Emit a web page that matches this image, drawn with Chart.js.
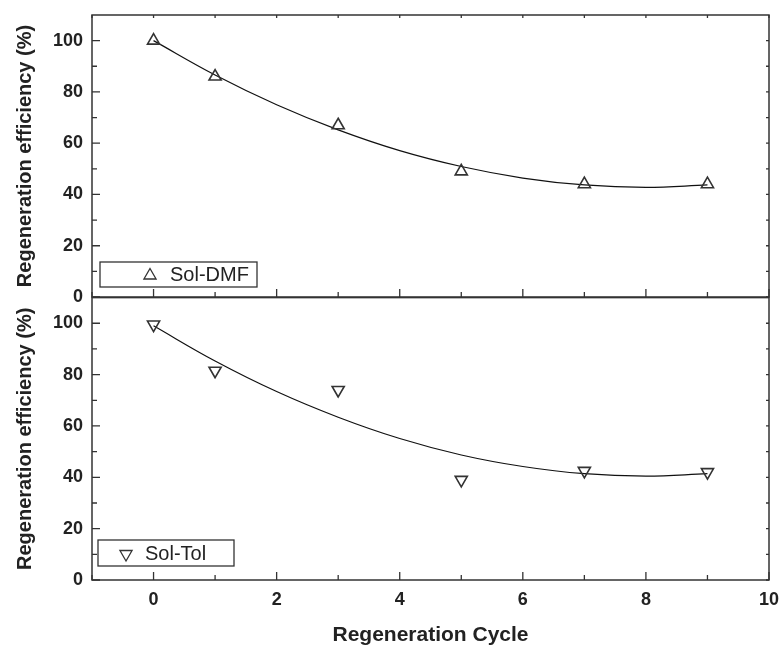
<!DOCTYPE html>
<html>
<head>
<meta charset="utf-8">
<script src="https://cdn.jsdelivr.net/npm/chart.js@4.4.1/dist/chart.umd.min.js"></script>
<style>
  html, body { margin: 0; padding: 0; background: #fff; }
  #wrap { position: relative; width: 783px; height: 648px; }
  canvas { position: absolute; left: 0; }
</style>
</head>
<body>
<div id="wrap">
  <canvas id="topChart" width="783" height="310" style="top:0"></canvas>
  <canvas id="bottomChart" width="783" height="359" style="top:289px"></canvas>
</div>
<script>
// measured points
const cycles = [0, 1, 3, 5, 7, 9];
const dmfEff = [100, 86, 67, 49, 44, 44];
const tolEff = [99.5, 81.5, 74, 39, 42.5, 42];

// fitted curves
const fitCycles = [0, 1, 2, 3, 4, 5, 6, 7, 8, 9];
const dmfFit = [100, 86.6, 75.0, 65.2, 57.1, 50.9, 46.4, 43.7, 42.8, 43.7];
const tolFit = [99, 85.3, 73.4, 63.4, 55.1, 48.7, 44.2, 41.4, 40.5, 41.4];

// ticks
const xTicks = [0, 2, 4, 6, 8, 10];
const xMinor = [-1, 1, 3, 5, 7, 9];
const yTicks = [0, 20, 40, 60, 80, 100];
const yMinor = [10, 30, 50, 70, 90];

const FONT = "'Liberation Sans', Arial, sans-serif";
const INK = '#333';

function pts(xs, ys) {
    return xs.map((x, i) => ({ x: x, y: ys[i] }));
}

// frame, inward ticks and the boxed legend
const framePlugin = {
    id: 'frame',
    afterDraw(chart, args, opts) {
        const { ctx, chartArea: a, scales: { x, y } } = chart;
        ctx.save();
        ctx.strokeStyle = INK;
        ctx.lineWidth = 1.5;
        ctx.strokeRect(a.left, a.top, a.right - a.left, a.bottom - a.top);

        ctx.lineWidth = 1.3;
        ctx.beginPath();
        const yTick = (v, len) => {
            const py = y.getPixelForValue(v);
            ctx.moveTo(a.left, py); ctx.lineTo(a.left + len, py);
            ctx.moveTo(a.right, py); ctx.lineTo(a.right - 3, py);
        };
        yTicks.forEach(v => yTick(v, 8));
        yMinor.forEach(v => yTick(v, 5));
        const xTick = (v, len) => {
            const px = x.getPixelForValue(v);
            ctx.moveTo(px, a.bottom); ctx.lineTo(px, a.bottom - len);
            if (opts.topTicks) { ctx.moveTo(px, a.top); ctx.lineTo(px, a.top + 3); }
        };
        xTicks.forEach(v => xTick(v, 8));
        xMinor.forEach(v => xTick(v, 5));
        ctx.stroke();

        // legend box
        const b = opts.box;
        const bx = a.left + b.left, by = a.bottom - b.bottom - b.height;
        ctx.fillStyle = '#fff';
        ctx.fillRect(bx, by, b.width, b.height);
        ctx.lineWidth = 1.3;
        ctx.strokeRect(bx, by, b.width, b.height);
        Chart.helpers.drawPoint(ctx, {
            pointStyle: 'triangle', rotation: b.rotation, radius: 7, borderWidth: 1.8
        }, bx + b.marker, by + b.height / 2 + 1);
        ctx.fillStyle = '#222';
        ctx.font = '20px ' + FONT;
        ctx.textBaseline = 'middle';
        ctx.fillText(chart.data.datasets[0].label, bx + b.text, by + b.height / 2 + 1);
        ctx.restore();
    }
};

function makeChart(id, label, xs, ys, fit, rotation, showX, padding, box) {
    const tickFont = { family: FONT, size: 18, weight: 'bold' };
    return new Chart(document.getElementById(id), {
        type: 'scatter',
        data: {
            datasets: [
                {
                    label: label,
                    data: pts(xs, ys),
                    pointStyle: 'triangle',
                    pointRotation: rotation,
                    pointRadius: 7,
                    pointBorderWidth: 1.6,
                    borderColor: INK,
                    backgroundColor: 'rgba(255,255,255,0)',
                    order: 1
                },
                {
                    label: label + ' fit',
                    data: pts(fitCycles, fit),
                    showLine: true,
                    tension: 0.4,
                    pointRadius: 0,
                    borderColor: '#111',
                    borderWidth: 1.2,
                    order: 2
                }
            ]
        },
        options: {
            responsive: false,
            animation: false,
            layout: { padding: padding },
            plugins: {
                legend: { display: false },
                tooltip: { enabled: false },
                frame: { topTicks: !showX, box: box }
            },
            scales: {
                x: {
                    type: 'linear',
                    display: showX,
                    min: -1, max: 10,
                    afterBuildTicks: s => { s.ticks = xTicks.map(v => ({ value: v })); },
                    afterFit: s => {
                        if (showX) s.height = 68;
                        s.paddingLeft = 0; s.paddingRight = 0;
                    },
                    grid: { display: false, drawTicks: false },
                    border: { display: false },
                    ticks: { padding: 9, color: '#222', font: tickFont, maxRotation: 0 },
                    title: {
                        display: true,
                        text: 'Regeneration Cycle',
                        color: '#222',
                        font: { family: FONT, size: 21, weight: 'bold' },
                        padding: { top: 0, bottom: 0 }
                    }
                },
                y: {
                    min: 0, max: 110,
                    afterBuildTicks: s => { s.ticks = yTicks.map(v => ({ value: v })); },
                    afterFit: s => {
                        s.width = 92;
                        s.paddingTop = 0; s.paddingBottom = 0;
                    },
                    grid: { display: false, drawTicks: false },
                    border: { display: false },
                    ticks: { padding: 9, color: '#222', font: tickFont },
                    title: {
                        display: true,
                        text: 'Regeneration efficiency (%)',
                        color: '#222',
                        font: { family: FONT, size: 20, weight: 'bold' },
                        padding: 13
                    }
                }
            }
        },
        plugins: [framePlugin]
    });
}

makeChart('topChart', 'Sol-DMF', cycles, dmfEff, dmfFit, 0, false,
    { top: 15, right: 14, bottom: 13, left: 0 },
    { left: 8, bottom: 10, width: 157, height: 25, rotation: 0, marker: 50, text: 70 });

makeChart('bottomChart', 'Sol-Tol', cycles, tolEff, tolFit, 180, true,
    { top: 8, right: 14, bottom: 0, left: 0 },
    { left: 6, bottom: 14, width: 136, height: 26, rotation: 180, marker: 28, text: 47 });
</script>
</body>
</html>
